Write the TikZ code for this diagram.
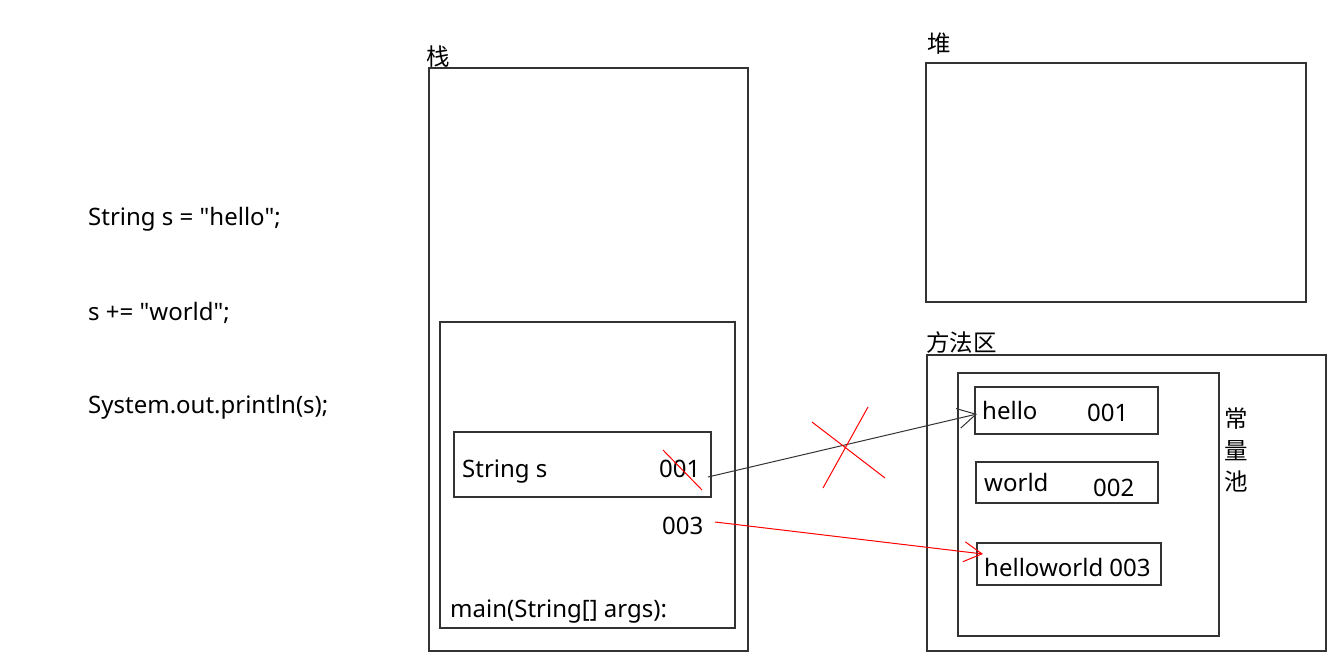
\documentclass[tikz,border=0pt]{standalone}
\usepackage{fontspec}
\setmainfont{Noto Sans}[Ligatures=TeXOff]
\newfontfamily\cjk{Noto Sans CJK SC}
\usetikzlibrary{arrows.meta}
\begin{document}
\begin{tikzpicture}[x=1pt,y=-1pt,
  box/.style={draw=black!80,line width=1.2pt},
  txt/.style={anchor=base west,inner sep=0pt,font=\fontsize{24}{28}\selectfont,text=black},
  ctxt/.style={txt,font=\fontsize{23.5}{28}\selectfont\cjk},
  redline/.style={draw=red,line width=1pt},
  tip/.style={-{Straight Barb[length=18pt,width=20pt,line width=1pt]}}]
\useasboundingbox (0,0) rectangle (1334,661);
% code lines
\node[txt] (c1) at (88,225) {String s = "hello";};
\node[txt] (c2) at (88,320) {s += "world";};
\node[txt] (c3) at (88,413) {System.out.println(s);};
% stack
\node[ctxt] (stk) at (426,66) {栈};
\draw[box] (429,68) rectangle (748,651);
\draw[box] (440,322) rectangle (735,628);
\draw[box] (454,432) rectangle (711,497);
\node[txt] (strs) at (462,477) {String s};
\node[txt] (v1) at (659,477) {001};
\coordinate (v1e) at (708,477);
\draw[redline] (663,450) -- (702,490);
\node[txt] (v3) at (662,534) {003};
\coordinate (v3e) at (715,522);
\node[txt] (mainl) at (450,617) {main(String[] args):};
% heap
\node[ctxt] (heap) at (927,53) {堆};
\draw[box] (926,63) rectangle (1306,302);
% method area
\node[ctxt] (ma) at (926,351) {方法区};
\draw[box] (927,355) rectangle (1326,651);
\draw[box] (958,373) rectangle (1219,636);
\draw[box] (975,387) rectangle (1158,434);
\coordinate (helloin) at (977,414);
\node[txt] (h) at (982,419) {hello};
\node[txt] (h1) at (1087,421) {001};
\draw[box] (976,462) rectangle (1158,503);
\node[txt] (w) at (984,491) {world};
\node[txt] (w2) at (1093,496) {002};
\draw[box] (977,543) rectangle (1161,585);
\coordinate (hwin) at (983,554);
\node[txt] (hw) at (984,576) {helloworld 003};
\node[ctxt] (p1) at (1224,427) {常};
\node[ctxt] (p2) at (1224,459) {量};
\node[ctxt] (p3) at (1224,490) {池};
% arrows
\draw[tip,draw=black!80,line width=1pt] (v1e) -- (helloin);
\draw[tip,draw=red,line width=1pt] (v3e) -- (hwin);
\draw[redline] (812,422) -- (885,478);
\draw[redline] (868,407) -- (823,488);
\end{tikzpicture}
\end{document}
